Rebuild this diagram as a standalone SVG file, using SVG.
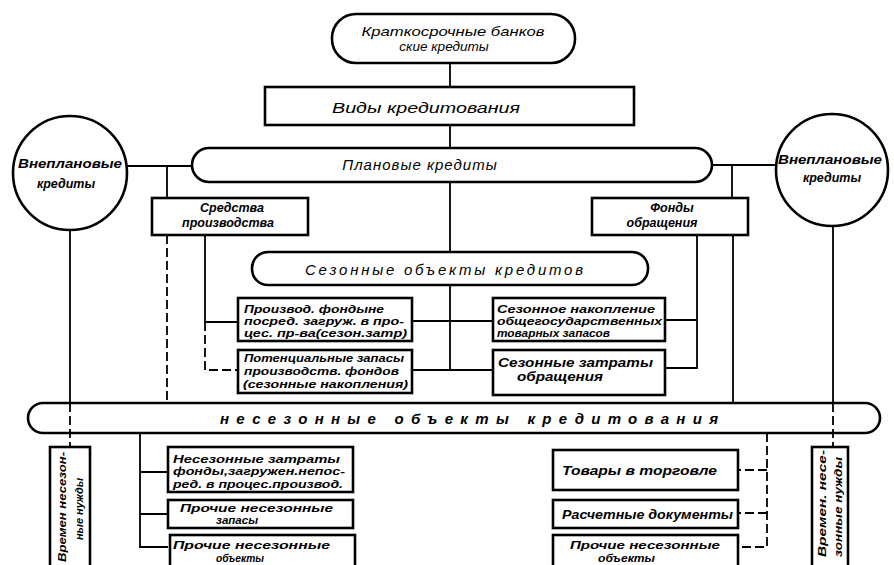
<svg xmlns="http://www.w3.org/2000/svg" width="894" height="565" viewBox="0 0 894 565">
<style>
.b{fill:#fff;stroke:#000;stroke-width:2.6}
.c{fill:none;stroke:#000;stroke-width:1.8}
.d{stroke-dasharray:9 4}
text{font-family:"Liberation Sans","DejaVu Sans",sans-serif;font-style:italic;fill:#000}
.s{font-size:10.5px;font-weight:bold}
.m{font-size:12.5px;font-weight:bold}
.l{font-size:15px}
</style>
<rect width="894" height="565" fill="#fff"/>
<g id="n-top"><rect class="b" x="332" y="14" width="243" height="49" rx="24"/>
<text x="453" y="36" font-size="13.5" text-anchor="middle" textLength="183" lengthAdjust="spacingAndGlyphs">Краткосрочные  банков</text>
<text x="444" y="51" font-size="13.5" text-anchor="middle">ские кредиты</text></g>
<g id="n-vidy"><rect class="b" x="265" y="87" width="369" height="38"/>
<text class="l" x="426" y="113" text-anchor="middle" font-size="18" textLength="188" lengthAdjust="spacingAndGlyphs">Виды  кредитования</text></g>
<g id="n-circle-l"><circle class="b" cx="70" cy="173" r="57"/>
<text class="m" x="70" y="168" text-anchor="middle" textLength="104" lengthAdjust="spacingAndGlyphs">Внеплановые</text>
<text class="m" x="66" y="188" text-anchor="middle">кредиты</text></g>
<g id="n-circle-r"><circle class="b" cx="832" cy="170" r="56"/>
<text class="m" x="830" y="164" text-anchor="middle" textLength="104" lengthAdjust="spacingAndGlyphs">Внеплановые</text>
<text class="m" x="832" y="182" text-anchor="middle">кредиты</text></g>
<g id="n-plan"><rect class="b" x="192" y="148" width="520" height="34" rx="17"/>
<text class="l" x="420" y="170" text-anchor="middle" letter-spacing="1">Плановые    кредиты</text></g>
<g id="n-sredstva"><rect class="b" x="152" y="198" width="156" height="37"/>
<text class="m" x="232" y="212" text-anchor="middle">Средства</text>
<text class="m" x="228" y="227" text-anchor="middle">производства</text></g>
<g id="n-fondy"><rect class="b" x="592" y="198" width="156" height="37"/>
<text class="m" x="672" y="212" text-anchor="middle">Фонды</text>
<text class="m" x="662" y="227" text-anchor="middle">обращения</text></g>
<g id="n-sez"><rect class="b" x="252" y="252" width="396" height="33" rx="16"/>
<text class="l" x="444" y="275" text-anchor="middle" font-size="16" textLength="278" lengthAdjust="spacing">Сезонные  объекты  кредитов</text></g>
<g id="n-l1"><rect class="b" x="238" y="298" width="174" height="43"/>
<text class="s" x="244" y="313" textLength="140" lengthAdjust="spacingAndGlyphs">Производ. фондыне</text>
<text class="s" x="244" y="325" textLength="160" lengthAdjust="spacingAndGlyphs">посред. загруж. в про-</text>
<text class="s" x="244" y="337" textLength="163" lengthAdjust="spacingAndGlyphs">цес. пр-ва(сезон.затр)</text></g>
<g id="n-l2"><rect class="b" x="238" y="350" width="174" height="43"/>
<text class="s" x="244" y="362" textLength="160" lengthAdjust="spacingAndGlyphs">Потенциальные запасы</text>
<text class="s" x="244" y="375" textLength="155" lengthAdjust="spacingAndGlyphs">производств. фондов</text>
<text class="s" x="243" y="388" textLength="165" lengthAdjust="spacingAndGlyphs">(сезонные накопления)</text></g>
<g id="n-r1"><rect class="b" x="493" y="298" width="172" height="43"/>
<text class="s" x="497" y="313" textLength="158" lengthAdjust="spacingAndGlyphs">Сезонное накопление</text>
<text class="s" x="497" y="325" textLength="165" lengthAdjust="spacingAndGlyphs">общегосударственных</text>
<text class="s" x="497" y="337" textLength="113" lengthAdjust="spacingAndGlyphs">товарных запасов</text></g>
<g id="n-r2"><rect class="b" x="493" y="350" width="172" height="45"/>
<text class="m" x="498" y="367" font-size="14" textLength="155" lengthAdjust="spacingAndGlyphs">Сезонные затраты</text>
<text class="m" x="517" y="381" font-size="14" textLength="86" lengthAdjust="spacingAndGlyphs">обращения</text></g>
<g id="n-nesez"><rect class="b" x="28" y="403" width="852" height="30" rx="15"/>
<text class="l" x="469" y="424" text-anchor="middle" font-size="15" font-weight="bold" textLength="498" lengthAdjust="spacing">несезонные     объекты     кредитования</text></g>
<g id="n-vrem-l"><rect class="b" x="50" y="447" width="40" height="130"/>
<text class="s" transform="translate(66 562) rotate(-90)" textLength="110" lengthAdjust="spacingAndGlyphs">Времен несезон-</text>
<text class="s" transform="translate(83 540) rotate(-90)" textLength="62" lengthAdjust="spacingAndGlyphs">ные нужды</text></g>
<g id="n-b1"><rect class="b" x="168" y="447" width="185" height="45"/>
<text class="s" x="173" y="463" textLength="167" lengthAdjust="spacingAndGlyphs">Несезонные затраты</text>
<text class="s" x="173" y="475" textLength="172" lengthAdjust="spacingAndGlyphs">фонды,загружен.непос-</text>
<text class="s" x="173" y="488" textLength="170" lengthAdjust="spacingAndGlyphs">ред. в процес.производ.</text></g>
<g id="n-b2"><rect class="b" x="168" y="500" width="185" height="28"/>
<text class="s" x="180" y="512" textLength="153" lengthAdjust="spacingAndGlyphs">Прочие несезонные</text>
<text class="s" x="216" y="524" textLength="42" lengthAdjust="spacingAndGlyphs">запасы</text></g>
<g id="n-b3"><rect class="b" x="170" y="535" width="185" height="40"/>
<text class="s" x="173" y="549" textLength="157" lengthAdjust="spacingAndGlyphs">Прочие несезонные</text>
<text class="s" x="216" y="562" textLength="48" lengthAdjust="spacingAndGlyphs">объекты</text></g>
<g id="n-c1"><rect class="b" x="553" y="450" width="185" height="40"/>
<text class="m" x="562" y="475" font-size="14" textLength="155" lengthAdjust="spacingAndGlyphs">Товары в торговле</text></g>
<g id="n-c2"><rect class="b" x="553" y="500" width="185" height="28"/>
<text class="m" x="562" y="519" font-size="13" textLength="171" lengthAdjust="spacingAndGlyphs">Расчетные документы</text></g>
<g id="n-c3"><rect class="b" x="553" y="535" width="185" height="40"/>
<text class="s" x="570" y="549" textLength="150" lengthAdjust="spacingAndGlyphs">Прочие несезонные</text>
<text class="s" x="598" y="562" textLength="57" lengthAdjust="spacingAndGlyphs">объекты</text></g>
<g id="n-vrem-r"><rect class="b" x="812" y="447" width="36" height="130"/>
<text class="s" transform="translate(826 557) rotate(-90)" textLength="107" lengthAdjust="spacingAndGlyphs">Времен. несе-</text>
<text class="s" transform="translate(842 557) rotate(-90)" textLength="100" lengthAdjust="spacingAndGlyphs">зонные нужды</text></g>
<g id="connectors">
<path class="c" d="M450 63V87M450 125V148M127 166H192M712 165H776M167 166V198M732 165V198M450 182V252"/>
<path class="c" d="M70 230V403M833 226V403M733 235V403"/>
<path class="c d" d="M70 403V447M833 403V447M167 235V403"/>
<path class="c" d="M205 235V322H238"/>
<path class="c d" d="M205 322V370H238"/>
<path class="c" d="M697 235V368H665M665 320H697"/>
<path class="c" d="M450 285V370M412 321H493M412 370H493"/>
<path class="c" d="M140 433V547H168M140 472H168M140 514H168"/>
<path class="c d" d="M767 433V547H738M767 470H738M767 513H738"/>
</g>
</svg>
